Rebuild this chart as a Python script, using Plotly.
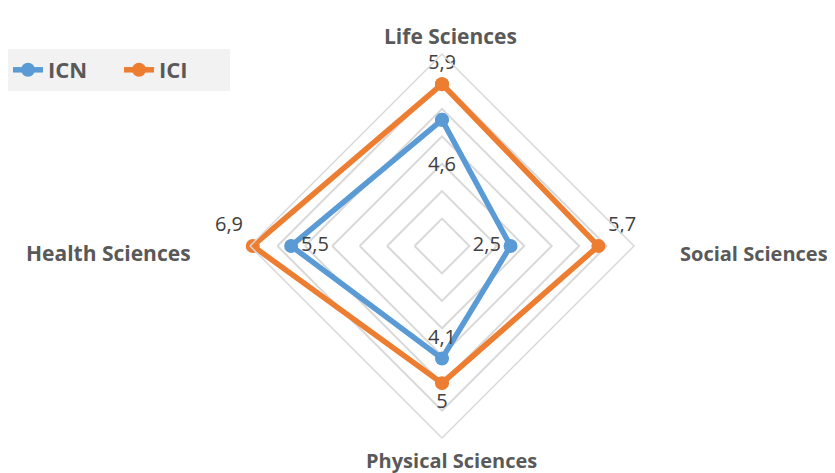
import plotly.graph_objects as go

categories = ["Life Sciences", "Social Sciences", "Physical Sciences", "Health Sciences"]
icn_values = [4.6, 2.5, 4.1, 5.5]
ici_values = [5.9, 5.7, 5.0, 6.9]
series_names = ["ICN", "ICI"]

W, H = 835, 473

def fmt(v):
    return ("%g" % v).replace(".", ",")

def closed(lst):
    return list(lst) + [lst[0]]

label_font = dict(family="Open Sans", size=20, color="#404040")

fig = go.Figure()
icn_text = [fmt(v) for v in icn_values]
icn_text[0] = "<br>" + icn_text[0]
fig.add_trace(go.Scatterpolar(
    r=closed(icn_values), theta=closed(categories), name=series_names[0],
    mode="lines+markers+text",
    text=icn_text + [""],
    textposition=["bottom center", "middle left", "top center", "middle right", "bottom center"],
    textfont=label_font,
    line=dict(color="#5B9BD5", width=5.5),
    marker=dict(size=14, color="#5B9BD5"),
    cliponaxis=False,
))
fig.add_trace(go.Scatterpolar(
    r=closed(ici_values), theta=closed(categories), name=series_names[1],
    mode="lines+markers+text",
    text=[fmt(v) for v in ici_values] + [""],
    textposition=["top center", "top right", "bottom center", "top left", "top center"],
    textfont=label_font,
    line=dict(color="#ED7D31", width=5.5),
    marker=dict(size=14, color="#ED7D31"),
    cliponaxis=False,
))

cx, cy = 434, 238
R = 192
annots = [
    dict(text=categories[0], x=442 / W, y=1 - 28 / H, xanchor="center", yanchor="middle", size=21),
    dict(text=categories[1], x=822 / W, y=1 - 245 / H, xanchor="right", yanchor="middle", size=20),
    dict(text=categories[2], x=444 / W, y=1 - 452 / H, xanchor="center", yanchor="middle", size=20),
    dict(text=categories[3], x=185 / W, y=1 - 245 / H, xanchor="right", yanchor="middle", size=21),
]
for a in annots:
    sz = a.pop("size")
    a.update(xref="paper", yref="paper", showarrow=False,
             font=dict(family="Open Sans", size=sz, color="#595959", weight="bold"))

fig.update_layout(
    width=W, height=H,
    margin=dict(l=0, r=0, t=0, b=0),
    paper_bgcolor="white",
    plot_bgcolor="white",
    separators=",.",
    showlegend=True,
    legend=dict(
        orientation="h", x=0, y=1 - 41 / H, xanchor="left", yanchor="top",
        bgcolor="#F2F2F2", font=dict(family="Open Sans", size=22, color="#595959", weight="bold"),
        itemwidth=30, entrywidth=66, entrywidthmode="pixels",
    ),
    polar=dict(
        domain=dict(x=[(cx - R) / W, (cx + R) / W], y=[1 - (cy + R) / H, 1 - (cy - R) / H]),
        bgcolor="white",
        gridshape="linear",
        radialaxis=dict(range=[0, 7], dtick=1, showticklabels=False, ticks="",
                        showline=False, gridcolor="#D9D9D9", gridwidth=1.5),
        angularaxis=dict(rotation=90, direction="clockwise", showticklabels=False,
                         ticks="", showgrid=False, showline=True,
                         linecolor="#D9D9D9", linewidth=1.5),
    ),
    annotations=annots,
)

fig.write_html("out.html")
